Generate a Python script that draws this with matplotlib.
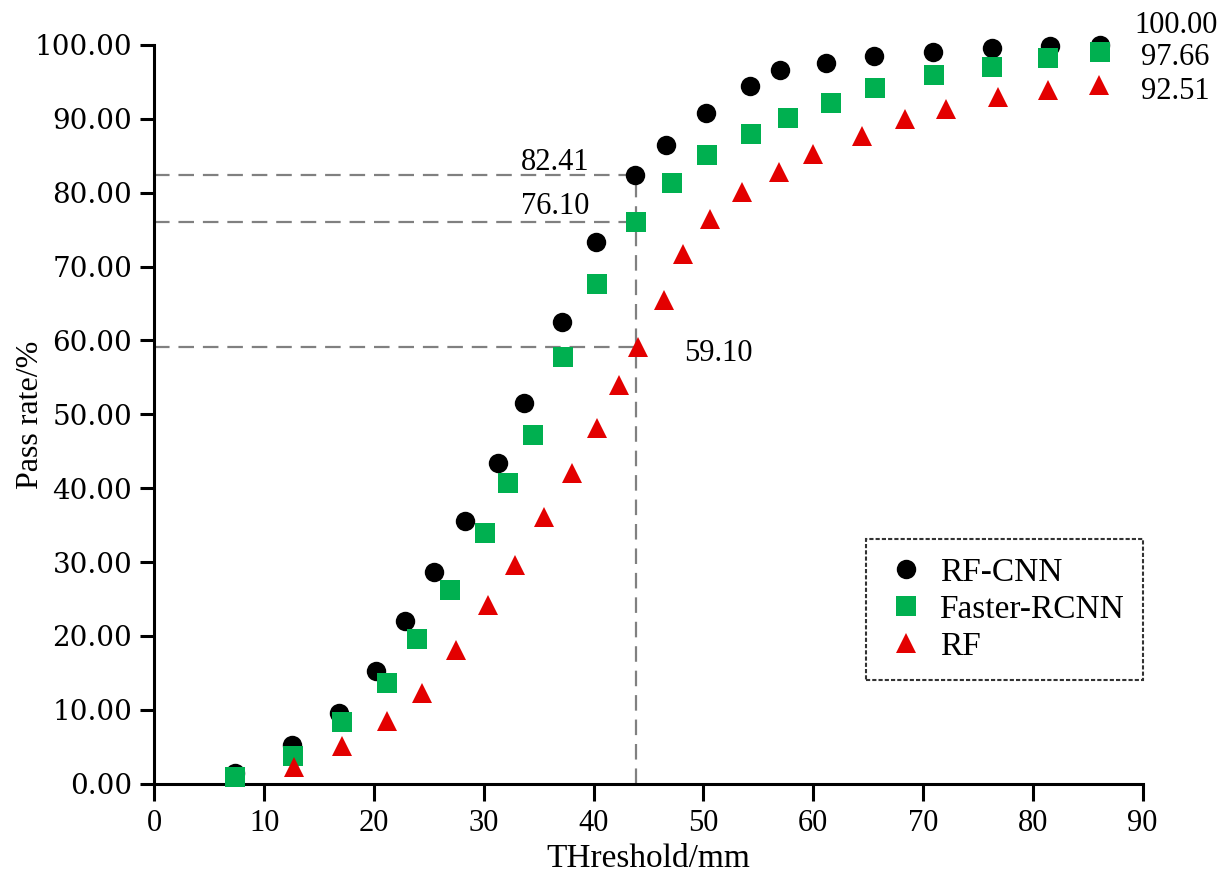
import numpy as np
from matplotlib import pyplot as plt

plt.rcParams['font.family'] = ['Liberation Serif', 'DejaVu Serif']

# RF-CNN (black circles)
rfcnn_x = [7.35, 12.5, 16.8, 20.2, 22.8, 25.5, 28.3, 31.3, 33.7, 37.1, 40.2, 43.8,
           46.6, 50.2, 54.2, 57.0, 61.2, 65.5, 70.9, 76.3, 81.6, 86.1]
rfcnn_y = [1.5, 5.2, 9.5, 15.2, 22.0, 28.7, 35.5, 43.4, 51.6, 62.5, 73.3, 82.41,
           86.5, 90.8, 94.4, 96.6, 97.5, 98.5, 99.1, 99.6, 99.8, 100.0]

# Faster-RCNN (green squares)
frcnn_x = [7.35, 12.6, 17.1, 21.2, 23.9, 26.9, 30.1, 32.2, 34.5, 37.2, 40.3, 43.9,
           47.1, 50.3, 54.3, 57.7, 61.6, 65.6, 71.0, 76.3, 81.4, 86.1]
frcnn_y = [0.95, 3.8, 8.3, 13.6, 19.6, 26.2, 34.0, 40.7, 47.2, 57.7, 67.6, 76.10,
           81.3, 85.1, 87.9, 90.1, 92.1, 94.2, 96.0, 97.0, 98.3, 99.1]

# RF (red triangles)
rf_x = [12.7, 17.1, 21.2, 24.4, 27.5, 30.4, 32.8, 35.5, 38.0, 40.3, 42.3, 44.0,
        46.4, 48.1, 50.6, 53.5, 56.9, 60.0, 64.4, 68.4, 72.1, 76.8, 81.4, 86.0]
rf_y = [2.3, 5.1, 8.5, 12.3, 18.1, 24.2, 29.6, 36.1, 42.1, 48.1, 54.0, 59.10,
        65.5, 71.7, 76.5, 80.1, 82.8, 85.3, 87.7, 90.0, 91.3, 92.9, 93.9, 94.6]

cut_x = 43.85
cut_vals = [82.41, 76.10, 59.10]
end_vals = ['100.00', '97.66', '92.51']

fig = plt.figure(figsize=(12.28, 8.82), dpi=100)
ax = fig.add_axes([0.1257, 0.1115, 0.8048, 0.8375])

grey = '#808080'
dash = (0, (7, 4))
for v in cut_vals:
	ax.plot([0, cut_x], [v, v], color=grey, lw=1.6, linestyle=dash, zorder=1)
ax.plot([cut_x, cut_x], [0, cut_vals[0]], color=grey, lw=1.6, linestyle=dash, zorder=1)

ms = 14
ax.plot(rfcnn_x, rfcnn_y, 'o', color='black', ms=ms, mew=0, label='RF-CNN', clip_on=False, zorder=3)
ax.plot(frcnn_x, frcnn_y, 's', color='#00B050', ms=ms, mew=0, label='Faster-RCNN', clip_on=False, zorder=4)
ax.plot(rf_x, rf_y, '^', color='#E30000', ms=ms, mew=0, label='RF', clip_on=False, zorder=5)

# annotations
ax.text(36.5, 84.1, '82.41', fontsize=22, ha='center', va='center')
ax.text(36.5, 78.2, '76.10', fontsize=22, ha='center', va='center')
ax.text(51.4, 58.3, '59.10', fontsize=22, ha='center', va='center')
for lab, yy in zip(end_vals, [102.7, 98.3, 93.7]):
	ax.text(93.0, yy, lab, fontsize=22, ha='center', va='center', clip_on=False)

ax.set_xlim(0, 90)
ax.set_ylim(0, 100)
ax.set_xticks(np.arange(0, 91, 10))
ax.set_yticks(np.arange(0, 101, 10))
ax.set_yticklabels(['%.2f' % v for v in np.arange(0, 101, 10)], family='DejaVu Serif', fontsize=20)
ax.tick_params(axis='both', direction='out', width=2.2, length=10, labelsize=22, pad=6)
ax.tick_params(axis='y', labelsize=20)
ax.tick_params(axis='x', length=12)
for s in ['top', 'right']:
	ax.spines[s].set_visible(False)
for s in ['left', 'bottom']:
	ax.spines[s].set_linewidth(2.2)

ax.set_xlabel('THreshold/mm', fontsize=24, labelpad=4)
ax.set_ylabel('Pass rate/%', fontsize=23)
ax.yaxis.set_label_coords(-0.111, 0.5)

leg = ax.legend(loc='lower right', bbox_to_anchor=(1.0, 0.14), fontsize=24,
	frameon=True, fancybox=False, borderpad=0.55, labelspacing=0.2,
	handletextpad=0.35, handlelength=1.3, borderaxespad=0)
leg.get_frame().set_edgecolor('black')
leg.get_frame().set_linewidth(1.5)
leg.get_frame().set_linestyle((0, (2, 1)))

fig.savefig('out.png', dpi=100)
